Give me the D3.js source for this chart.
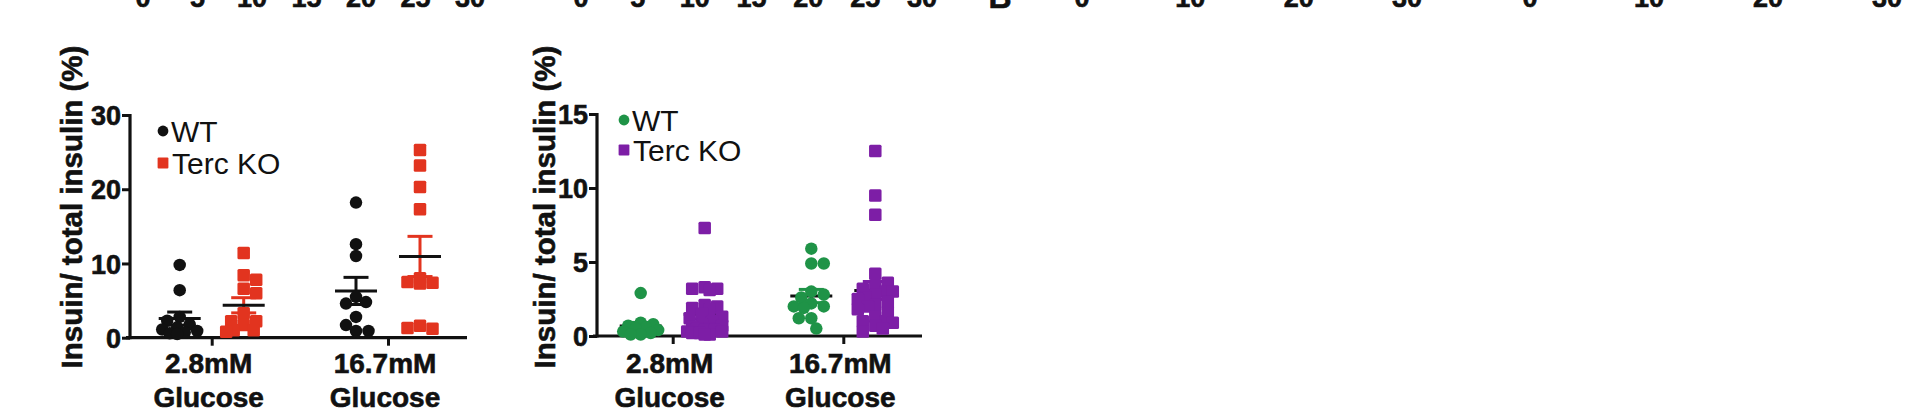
<!DOCTYPE html>
<html><head><meta charset="utf-8">
<script src="https://cdn.jsdelivr.net/npm/d3@7"></script>
<style>
body{margin:0;background:#fff;overflow:hidden}
svg{display:block}
text{font-family:"Liberation Sans",Arial,Helvetica,sans-serif}
.bd{font-weight:bold;stroke:#111;stroke-width:0.6px;fill:#111}
</style></head>
<body><svg id="c" width="1920" height="408"></svg>
<script>
// ---------- data ----------
const conditions = ["2.8mM", "16.7mM"];
const conditionSub = "Glucose";
const legendLabels = ["WT", "Terc KO"];
const yLabel = "Insuin/ total insulin (%)";

// Panel A (left): WT (black circles) and Terc KO (red squares)
const panelA_WT = [
  [9.8, 6.4, 2.8, 2.3, 1.8, 1.4, 1.1, 0.9, 0.7, 0.6, 0.5],
  [18.2, 12.6, 11.0, 5.5, 4.8, 4.6, 2.8, 1.7, 0.9, 0.9]
];
const panelA_KO = [
  [11.4, 8.4, 7.8, 6.6, 6.0, 3.3, 2.2, 2.2, 1.7, 1.0, 1.0, 0.8],
  [25.3, 23.2, 20.3, 17.3, 8.0, 7.5, 7.4, 7.3, 1.6, 1.3, 1.2]
];
const panelA_ticks = [0, 10, 20, 30];

// Panel B (right): WT (green circles) and Terc KO (purple squares)
const panelB_WT = [
  [2.9, 0.9, 0.8, 0.7, 0.6, 0.5, 0.4, 0.3, 0.2, 0.1, 0.1],
  [5.9, 4.9, 4.9, 3.0, 2.8, 2.6, 2.2, 2.0, 2.0, 1.9, 1.2, 1.2, 0.5]
];
const panelB_KO = [
  [7.3, 3.3, 3.2, 3.2, 3.1, 2.1, 2.0, 1.9, 1.8, 1.5, 1.3, 1.2, 1.0, 0.8, 0.7, 0.6, 0.5, 0.5, 0.4, 0.4, 0.3, 0.3, 0.2, 0.2, 0.1, 0.1],
  [12.5, 9.5, 8.2, 4.2, 3.6, 3.3, 3.2, 3.0, 3.0, 2.8, 2.6, 2.5, 2.3, 2.1, 2.0, 1.8, 1.6, 1.3, 1.0, 1.0, 0.9, 0.7, 0.5, 0.3]
];
const panelB_ticks = [0, 5, 10, 15];

// cropped tick labels of the row above
const topTicks5 = [0, 5, 10, 15, 20, 25, 30];
const topTicks10 = [0, 10, 20, 30];

// ---------- drawing ----------
const svg = d3.select("#c");
const FONT_BOLD = 27;

function swarm(values, cx, y, size, round, maxOff) {
  const pts = values.map(v => ({v, y: y(v)})).sort((a, b) => a.y - b.y);
  const placed = [];
  const step = 2.5, thr = size * 0.9;
  const cands = [0];
  for (let o = step; o <= maxOff; o += step) { cands.push(o); cands.push(-o); }
  let flip = 1;
  for (const p of pts) {
    let best = cx, bestD = -1;
    for (const c of cands) {
      const x = cx + c * flip;
      let d = Infinity;
      placed.forEach(q => {
        const dd = round ? Math.hypot(q.x - x, q.y - p.y) : Math.max(Math.abs(q.x - x), Math.abs(q.y - p.y));
        if (dd < d) d = dd;
      });
      if (d >= thr) { best = x; bestD = d; break; }
      if (d > bestD) { bestD = d; best = x; }
    }
    p.x = best;
    flip = -flip;
    placed.push(p);
  }
  return placed;
}

function panel(cfg) {
  const g = svg.append("g");
  const y = d3.scaleLinear().domain([0, cfg.max]).range([cfg.yBot, cfg.yTop]);
  const x = d3.scalePoint().domain(conditions).range(cfg.tickX);

  // y axis
  const ya = g.append("g").attr("transform", `translate(${cfg.x0},0)`)
    .call(d3.axisLeft(y).tickValues(cfg.ticks).tickSize(8).tickPadding(1));
  ya.select(".domain").attr("stroke", "#111").attr("stroke-width", 3.2)
    .attr("d", `M0,${cfg.yBot + 1.5}V${cfg.yTop - 1}`);
  ya.selectAll(".tick line").attr("stroke", "#111").attr("stroke-width", 3);
  ya.selectAll(".tick text").attr("class", "bd").attr("font-size", FONT_BOLD)
    .attr("font-family", "Liberation Sans, Arial, sans-serif").attr("dy", "0.36em");

  // x axis
  const xa = g.append("g").attr("transform", `translate(0,${cfg.yBot})`)
    .call(d3.axisBottom(x).tickSize(8).tickFormat(""));
  xa.select(".domain").attr("stroke", "#111").attr("stroke-width", 3.2)
    .attr("d", `M${cfg.x0 - 4},0H${cfg.x1}`);
  xa.selectAll(".tick line").attr("stroke", "#111").attr("stroke-width", 3);

  // x labels
  conditions.forEach(c => {
    g.append("text").attr("class", "bd").attr("x", x(c) - 3).attr("y", 373).attr("text-anchor", "middle")
      .attr("font-size", 28).text(c);
    g.append("text").attr("class", "bd").attr("x", x(c) - 3).attr("y", 407).attr("text-anchor", "middle")
      .attr("font-size", 28).text(conditionSub);
  });

  // y label
  g.append("text").attr("class", "bd")
    .attr("transform", `translate(${cfg.labelX},${207}) rotate(-90)`)
    .attr("text-anchor", "middle").attr("font-size", 29.5).text(yLabel);

  const series = [
    {data: cfg.wt, color: cfg.wtColor, round: true, off: -cfg.off},
    {data: cfg.ko, color: cfg.koColor, round: false, off: cfg.off}
  ];
  const size = 12.5;
  // mean + SEM (drawn beneath points)
  series.forEach(s => {
    s.data.forEach((vals, i) => {
      const cx = x(conditions[i]) + s.off;
      const m = d3.mean(vals), sem = d3.deviation(vals) / Math.sqrt(vals.length);
      g.append("line").attr("x1", cx).attr("x2", cx).attr("y1", y(m - sem)).attr("y2", y(m + sem))
        .attr("stroke", s.color).attr("stroke-width", 3);
      [m - sem, m + sem].forEach(v => g.append("line").attr("x1", cx - 12.5).attr("x2", cx + 12.5)
        .attr("y1", y(v)).attr("y2", y(v)).attr("stroke", s.color).attr("stroke-width", 3));
      g.append("line").attr("x1", cx - 21).attr("x2", cx + 21).attr("y1", y(m)).attr("y2", y(m))
        .attr("stroke", "#111").attr("stroke-width", 3);
    });
  });
  // points
  series.forEach(s => {
    s.data.forEach((vals, i) => {
      const cx = x(conditions[i]) + s.off;
      const pts = swarm(vals, cx, y, size, s.round, 18);
      if (s.round) {
        g.selectAll(null).data(pts).enter().append("circle")
          .attr("cx", d => d.x).attr("cy", d => d.y).attr("r", size / 2).attr("fill", s.color);
      } else {
        g.selectAll(null).data(pts).enter().append("rect")
          .attr("x", d => d.x - size / 2).attr("y", d => d.y - size / 2)
          .attr("width", size).attr("height", size).attr("rx", 1.5).attr("fill", s.color);
      }
    });
  });

  // legend
  const lg = g.append("g").attr("transform", `translate(${cfg.legX},${cfg.legY})`);
  lg.append("circle").attr("cx", 0).attr("cy", 0).attr("r", 5.4).attr("fill", cfg.wtColor);
  lg.append("text").attr("x", 8).attr("y", 10.5).attr("font-size", 30).attr("fill", "#111").text(legendLabels[0]);
  lg.append("rect").attr("x", -5.4).attr("y", cfg.legGap - 5.4).attr("width", 10.8).attr("height", 10.8)
    .attr("rx", 1).attr("fill", cfg.koColor);
  lg.append("text").attr("x", 9).attr("y", cfg.legGap + 10.5).attr("font-size", 30).attr("fill", "#111").text(legendLabels[1]);
}

panel({
  wt: panelA_WT, ko: panelA_KO, ticks: panelA_ticks, max: 30,
  x0: 130, x1: 467, yTop: 115, yBot: 337.7, tickX: [211.7, 388], off: 32,
  wtColor: "#111111", koColor: "#e2341f",
  labelX: 82, legX: 163, legY: 131, legGap: 32
});
panel({
  wt: panelB_WT, ko: panelB_KO, ticks: panelB_ticks, max: 15,
  x0: 597, x1: 922, yTop: 114, yBot: 336, tickX: [672.7, 843.3], off: 32,
  wtColor: "#1f9347", koColor: "#7d1ea6",
  labelX: 555, legX: 624, legY: 120, legGap: 30
});

// cropped row above: tick labels of another chart
const topRows = [
  {ticks: topTicks5, range: [143, 470]},
  {ticks: topTicks5, range: [581, 922]},
  {ticks: topTicks10, range: [1082, 1407]},
  {ticks: topTicks10, range: [1530, 1887]}
];
topRows.forEach(r => {
  const s = d3.scaleLinear().domain([0, 30]).range(r.range);
  svg.append("g").selectAll("text").data(r.ticks).enter().append("text").attr("class", "bd")
    .attr("x", d => s(d)).attr("y", 7).attr("text-anchor", "middle")
    .attr("font-size", FONT_BOLD).text(d => d);
});
svg.append("text").attr("class", "bd").attr("x", 1000).attr("y", 8).attr("text-anchor", "middle")
  .attr("font-size", 32).text("B");
</script>
</body></html>
